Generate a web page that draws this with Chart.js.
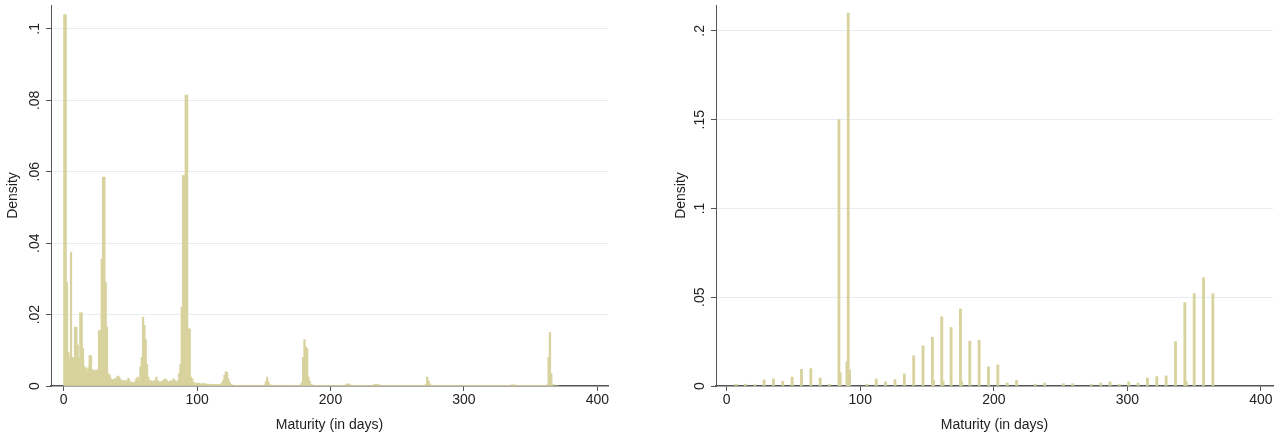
<!DOCTYPE html>
<html>
<head>
<meta charset="utf-8">
<script src="https://cdn.jsdelivr.net/npm/chart.js@4/dist/chart.umd.min.js"></script>
<style>
  body { margin: 0; background: #fff; width: 1287px; height: 434px; position: relative; overflow: hidden; }
  .box { position: absolute; top: 0; height: 434px; }
</style>
</head>
<body>
<div class="box" style="left:0;width:640px"><canvas id="left"></canvas></div>
<div class="box" style="left:643px;width:644px"><canvas id="right"></canvas></div>
<script>
// Panel izquierdo: densidad por día (0..370)
const leftDensity = [
  .104,.104,.029,.0095,.008,.0375,.008,.008,.0165,.0165,
  .0115,.008,.0205,.0205,.0105,.0055,.005,.004,.0052,.0085,
  .0085,.0045,.0045,.0042,.0045,.0045,.0155,.0155,.0355,.0585,
  .0585,.029,.0165,.0035,.003,.002,.0018,.0018,.002,.0022,
  .0028,.0025,.002,.0015,.0015,.0015,.0015,.0015,.0022,.0015,
  .001,.001,.001,.0012,.002,.0025,.0015,.0053,.008,.0193,
  .017,.013,.006,.0025,.0015,.0015,.0012,.0015,.0015,.0025,
  .0015,.0012,.0012,.0012,.0015,.0018,.002,.0015,.0012,.0012,
  .0015,.0015,.002,.0015,.0012,.0015,.0035,.006,.022,.059,
  .059,.0815,.0815,.016,.016,.0025,.002,.001,.0008,.0008,
  .0008,.0008,.0006,.0006,.0008,.0006,.0006,.0005,.0005,.0005,
  .0005,.0004,.0004,.0004,.0004,.0004,.0003,.0004,.0008,.0015,
  .003,.004,.0038,.002,.001,.0004,.0003,.0002,.0002,.0002,
  .0002,.0002,.0002,.0002,.0002,.0002,.0002,.0002,.0002,.0002,
  .0002,.0002,.0002,.0002,.0002,.0002,.0002,.0002,.0002,.0002,
  .0003,.0012,.0025,.0012,.0004,.0002,.0002,.0002,.0002,.0002,
  .0002,.0002,.0002,.0002,.0002,.0002,.0002,.0002,.0002,.0002,
  .0002,.0002,.0002,.0002,.0002,.0002,.0002,.0003,.001,.008,
  .013,.011,.0105,.0025,.0013,.0005,.0003,.0002,.0002,.0002,
  .0001,.0001,.0001,.0001,.0001,.0001,.0001,.0001,.0001,.0001,
  .0001,.0001,.0001,.0001,.0001,.0001,.0001,.0001,.0001,.0001,
  .0002,.0004,.0006,.0006,.0004,.0002,.0001,.0001,.0001,.0001,
  .0001,.0001,.0001,.0001,.0001,.0001,.0001,.0001,.0001,.0001,
  .0001,.0001,.0004,.0004,.0004,.0004,.0004,.0001,.0001,.0001,
  .0001,.0001,.0001,.0001,.0001,.0001,.0001,.0001,.0001,.0001,
  .0001,.0001,.0001,.0001,.0001,.0001,.0001,.0001,.0001,.0001,
  .0001,.0001,.0001,.0001,.0001,.0001,.0001,.0001,.0001,.0001,
  .0002,.0005,.0025,.0015,.0006,.0002,.0001,.0001,.0001,.0001,
  .0001,.0001,.0001,.0001,.0001,.0001,.0001,.0001,.0001,.0001,
  .0001,.0001,.0001,.0001,.0001,.0001,.0001,.0001,.0001,.0001,
  .0001,.0001,.0001,.0001,.0001,.0001,.0001,.0001,.0001,.0001,
  .0001,.0001,.0001,.0001,.0001,.0001,.0001,.0001,.0001,.0001,
  .0001,.0001,.0001,.0001,.0001,.0001,.0001,.0001,.0001,.0001,
  .0001,.0001,.0001,.0001,.0001,.0003,.0003,.0003,.0003,.0001,
  .0001,.0001,.0001,.0001,.0001,.0001,.0001,.0001,.0001,.0001,
  .0001,.0001,.0001,.0001,.0001,.0001,.0001,.0001,.0001,.0001,
  .0002,.0002,.0004,.008,.015,.0035,.0005,0,0,0,0
];

// Panel derecho: vencimientos (días) y densidad
const rightDays = [7,14,21,28,35,42,49,56,63,70,77,84,85,90,91,92,105,112,119,126,133,140,147,154,155,161,162,168,175,176,182,189,196,203,210,217,231,238,252,259,273,280,287,294,301,308,315,322,329,336,343,344,350,357,364];
const rightDensity = [.001,.001,.0007,.0034,.004,.0026,.005,.0094,.0098,.0045,.001,.15,.0075,.0136,.21,.009,.001,.004,.0023,.0036,.0068,.017,.0226,.0275,.003,.039,.0028,.033,.0434,.0025,.0253,.0258,.0108,.0119,.0017,.0032,.001,.0017,.0013,.0013,.001,.0017,.0023,.001,.0023,.0017,.0045,.0053,.0057,.025,.047,.0025,.052,.061,.052];

const xTicks = [0, 100, 200, 300, 400];
const leftYTicks = [0, .02, .04, .06, .08, .1];
const leftYLabels = ['0', '.02', '.04', '.06', '.08', '.1'];
const rightYTicks = [0, .05, .1, .15, .2];
const rightYLabels = ['0', '.05', '.1', '.15', '.2'];

const BAR = 'rgb(216,211,158)';
const AXIS = '#555';
const FONT = "'Liberation Sans', Arial, sans-serif";

const yLabelsPlugin = {
  id: 'yLabels',
  afterDraw(chart, args, opts) {
    const { ctx, chartArea, scales } = chart;
    ctx.save();
    ctx.fillStyle = '#222';
    ctx.font = '14px ' + FONT;
    ctx.textAlign = 'center';
    ctx.textBaseline = 'middle';
    opts.ticks.forEach((v, i) => {
      const y = scales.y.getPixelForValue(v);
      ctx.save();
      ctx.translate(chartArea.left - 16, y);
      ctx.rotate(-Math.PI / 2);
      ctx.fillText(opts.labels[i], 0, 0);
      ctx.restore();
    });
    ctx.translate(chartArea.left - opts.titleOffset, (chartArea.top + chartArea.bottom) / 2);
    ctx.rotate(-Math.PI / 2);
    ctx.fillText('Density', 0, 0);
    ctx.restore();
  }
};

function makeChart(id, points, thickness, yMax, yTicks, yLabels, xMin, xMax, yWidth, padRight, titleOffset) {
  return new Chart(document.getElementById(id), {
    type: 'bar',
    data: {
      datasets: [{
        data: points,
        backgroundColor: BAR,
        borderWidth: 0,
        barThickness: thickness,
        grouped: false
      }]
    },
    options: {
      responsive: true,
      maintainAspectRatio: false,
      animation: false,
      layout: { padding: { top: 5, right: padRight, left: 0, bottom: 0 } },
      plugins: {
        legend: { display: false },
        tooltip: { enabled: false },
        yLabels: { ticks: yTicks, labels: yLabels, titleOffset: titleOffset }
      },
      scales: {
        x: {
          type: 'linear',
          offset: false,
          min: xMin,
          max: xMax,
          afterBuildTicks: s => { s.ticks = xTicks.map(v => ({ value: v })); },
          afterFit: s => { s.height = 48; },
          grid: { offset: false, drawOnChartArea: false, drawTicks: true, tickLength: 5, tickColor: AXIS },
          border: { display: true, color: AXIS, width: 1.5 },
          ticks: { color: '#222', font: { size: 14, family: FONT }, padding: 1, maxRotation: 0 },
          title: { display: true, text: 'Maturity (in days)', color: '#222', font: { size: 14, family: FONT }, padding: 0 }
        },
        y: {
          min: 0,
          max: yMax,
          afterBuildTicks: s => { s.ticks = yTicks.map(v => ({ value: v })); },
          afterFit: s => { s.width = yWidth; },
          grid: {
            color: c => c.tick && c.tick.value === 0 ? 'rgba(0,0,0,0)' : '#e6edf0',
            tickColor: AXIS,
            tickLength: 5,
            drawTicks: true
          },
          border: { display: true, color: AXIS, width: 1 },
          ticks: { display: false }
        }
      }
    },
    plugins: [yLabelsPlugin]
  });
}

const leftPoints = leftDensity.map((v, i) => ({ x: i + 0.5, y: v }));
const rightPoints = rightDays.map((d, i) => ({ x: d, y: rightDensity[i] }));

makeChart('left', leftPoints, 1.6, 0.1067, leftYTicks, leftYLabels, -9.5, 408, 51, 32, 38);
makeChart('right', rightPoints, 2.2, 0.2146, rightYTicks, rightYLabels, -8, 409, 73, 14, 35);
</script>
</body>
</html>
